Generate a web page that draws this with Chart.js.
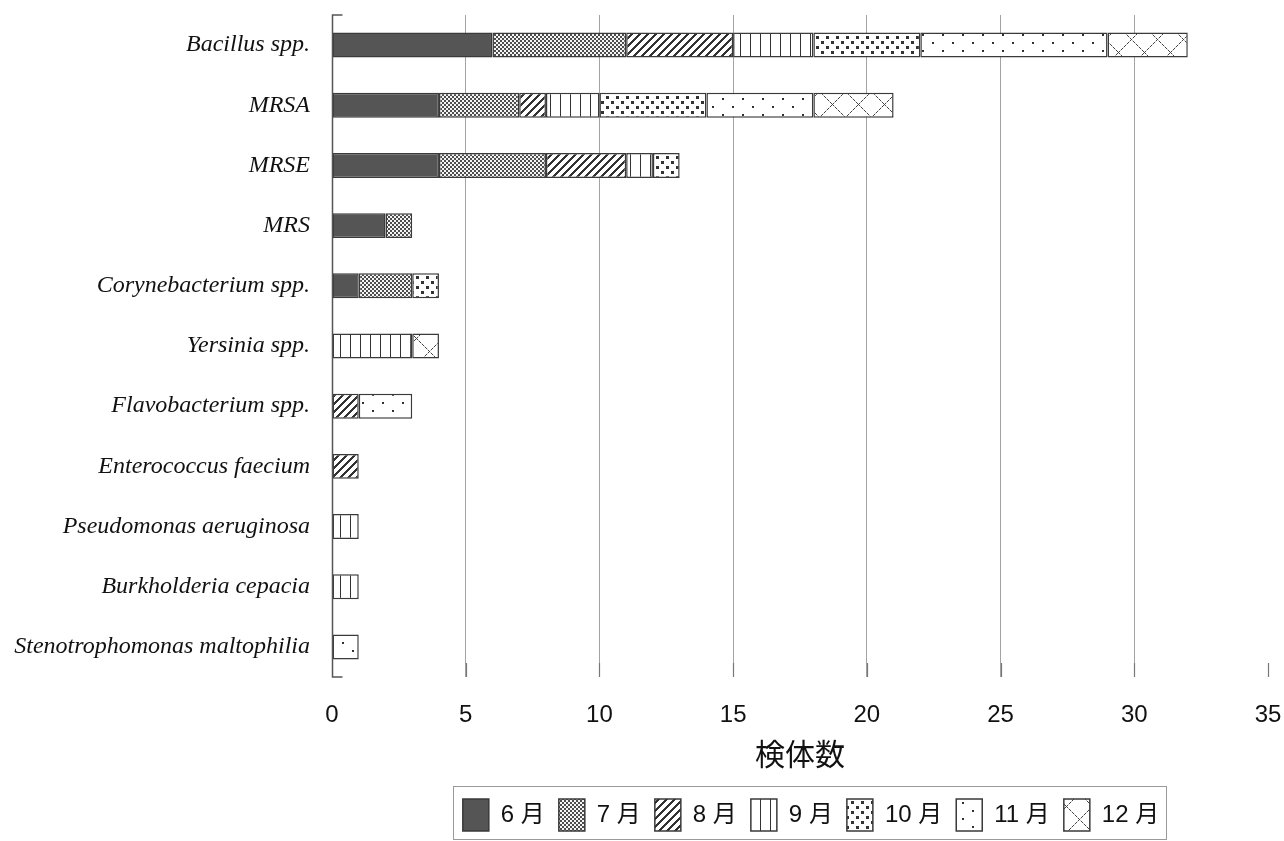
<!DOCTYPE html>
<html>
<head>
<meta charset="utf-8">
<script src="https://cdn.jsdelivr.net/npm/chart.js@4"></script>
<style>
  html, body { margin: 0; padding: 0; background: #fff; }
  #wrap { width: 1284px; height: 841px; }
</style>
</head>
<body>
<div id="wrap"><canvas id="c" width="1284" height="841"></canvas></div>
<script>
// ---- data ----
const categories = ['Bacillus spp.', 'MRSA', 'MRSE', 'MRS', 'Corynebacterium spp.', 'Yersinia spp.',
  'Flavobacterium spp.', 'Enterococcus faecium', 'Pseudomonas aeruginosa', 'Burkholderia cepacia',
  'Stenotrophomonas maltophilia'];
const months = ['6 月', '7 月', '8 月', '9 月', '10 月', '11 月', '12 月'];
const jun = [6, 4, 4, 2, 1, 0, 0, 0, 0, 0, 0];
const jul = [5, 3, 4, 1, 2, 0, 0, 0, 0, 0, 0];
const aug = [4, 1, 3, 0, 0, 0, 1, 1, 0, 0, 0];
const sep = [3, 2, 1, 0, 0, 3, 0, 0, 1, 1, 0];
const oct = [4, 4, 1, 0, 1, 0, 0, 0, 0, 0, 0];
const nov = [7, 4, 0, 0, 0, 0, 2, 0, 0, 0, 1];
const dec = [3, 3, 0, 0, 0, 1, 0, 0, 0, 0, 0];
const xTicks = [0, 5, 10, 15, 20, 25, 30, 35];
const xTitle = '検体数';

// ---- patterns ----
const mainCtx = document.getElementById('c').getContext('2d');
function tile(w, h, bg, fn) {
  const c = document.createElement('canvas');
  c.width = w; c.height = h;
  const g = c.getContext('2d');
  g.fillStyle = bg; g.fillRect(0, 0, w, h);
  fn(g, w, h);
  return mainCtx.createPattern(c, 'repeat');
}
function px(g, x, y, col, s) { g.fillStyle = col; g.fillRect(x, y, s || 1, s || 1); }

const pat6 = '#555555';
const pat7 = tile(4, 4, '#f4f4f4', g => {
  g.fillStyle = '#4e4e4e'; g.fillRect(0, 0, 2, 2); g.fillRect(2, 2, 2, 2);
});
const pat8 = tile(8, 8, '#ffffff', g => {
  for (let x = 0; x < 8; x++) for (let y = 0; y < 8; y++) if ((x + y) % 8 < 3) px(g, x, y, '#333');
});
const pat9 = tile(10, 4, '#ffffff', g => { g.fillStyle = '#333'; g.fillRect(0, 0, 1, 4); });
const pat10 = tile(10, 10, '#ffffff', g => { px(g, 1, 1, '#333', 3); px(g, 6, 6, '#333', 3); });
const pat11 = tile(20, 16, '#ffffff', g => { px(g, 2, 2, '#333', 2); px(g, 12, 10, '#333', 2); });
const pat12 = tile(26, 26, '#ffffff', g => {
  for (let x = 0; x < 26; x++) for (let y = 0; y < 26; y++) {
    if ((x + y) % 26 === 0 || (x - y + 26) % 26 === 0) px(g, x, y, (x % 3 === 2) ? '#bbb' : '#444');
  }
});
const fills = [pat6, pat7, pat8, pat9, pat10, pat11, pat12];
const series = [jun, jul, aug, sep, oct, nov, dec];

const datasets = series.map((arr, i) => ({
  label: months[i],
  data: arr.map(v => (v ? v : null)),
  backgroundColor: fills[i],
  borderColor: '#3a3a3a',
  borderWidth: 1.5,
  borderSkipped: false,
  categoryPercentage: 1,
  barPercentage: 0.415
}));

// ---- decorations ----
const decor = {
  id: 'decor',
  afterLayout(chart) {
    const lg = chart.legend;
    lg.left += 11; lg.right += 11;
  },
  beforeDatasetsDraw(chart) {
    const { ctx, chartArea: a, scales: { x } } = chart;
    ctx.save();
    ctx.strokeStyle = '#777';
    ctx.lineWidth = 1.2;
    xTicks.forEach(v => {
      if (v === 0) return;
      const p = Math.round(x.getPixelForValue(v)) + 0.5;
      ctx.beginPath(); ctx.moveTo(p, a.bottom - 14); ctx.lineTo(p, a.bottom); ctx.stroke();
    });
    ctx.restore();
  },
  afterDraw(chart) {
    const { ctx, chartArea: a } = chart;
    ctx.save();
    ctx.strokeStyle = '#555';
    ctx.lineWidth = 1.5;
    const L = Math.round(a.left) + 0.5;
    ctx.beginPath();
    ctx.moveTo(L + 10, a.top); ctx.lineTo(L, a.top); ctx.lineTo(L, a.bottom); ctx.lineTo(L + 10, a.bottom);
    ctx.stroke();
    const lg = chart.legend;
    const hb = lg.legendHitBoxes;
    if (hb && hb.length) {
      const f = hb[0], l = hb[hb.length - 1];
      ctx.strokeStyle = '#9a9a9a';
      ctx.lineWidth = 1;
      const x0 = Math.round(f.left - 10) + 0.5, x1 = Math.round(l.left + l.width + 7) + 0.5;
      const y0 = Math.round(f.top - 13) + 0.5, y1 = Math.round(f.top + f.height + 8) + 0.5;
      ctx.strokeRect(x0, y0, x1 - x0, y1 - y0);
    }
    ctx.restore();
  }
};

new Chart(mainCtx, {
  type: 'bar',
  data: { labels: categories, datasets },
  plugins: [decor],
  options: {
    indexAxis: 'y',
    responsive: false,
    animation: false,
    devicePixelRatio: 1,
    layout: { padding: { top: 15, right: 16, left: 0, bottom: 0 } },
    plugins: {
      legend: {
        position: 'bottom',
        fullSize: false,
        labels: {
          boxWidth: 26,
          boxHeight: 32,
          padding: 14,
          color: '#111',
          font: { family: "'Liberation Sans', 'Noto Sans CJK JP', sans-serif", size: 24 }
        }
      },
      tooltip: { enabled: false }
    },
    scales: {
      x: {
        stacked: true,
        min: 0, max: 35,
        afterBuildTicks: s => { s.ticks = xTicks.map(v => ({ value: v })); },
        afterFit: s => { s.height = 108; s.paddingLeft = 0; s.paddingRight = 0; },
        border: { display: false },
        grid: {
          drawTicks: false,
          color: c => (c.tick && (c.tick.value === 0 || c.tick.value === 35)) ? 'rgba(0,0,0,0)' : '#a3a3a3',
          lineWidth: 1
        },
        ticks: {
          padding: 24,
          color: '#111',
          font: { family: "'Liberation Sans', sans-serif", size: 24 }
        },
        title: {
          display: true,
          text: xTitle,
          color: '#111',
          padding: { top: 13, bottom: 13 },
          font: { family: "'Noto Sans CJK JP', sans-serif", size: 30, weight: 'normal' }
        }
      },
      y: {
        stacked: true,
        afterFit: s => { s.width = 332; s.paddingTop = 0; s.paddingBottom = 0; },
        border: { display: false },
        grid: { display: false, drawTicks: false },
        ticks: {
          padding: 22,
          color: '#111',
          font: { family: "'Liberation Serif', serif", size: 24, style: 'italic' }
        }
      }
    }
  }
});
</script>
</body>
</html>
